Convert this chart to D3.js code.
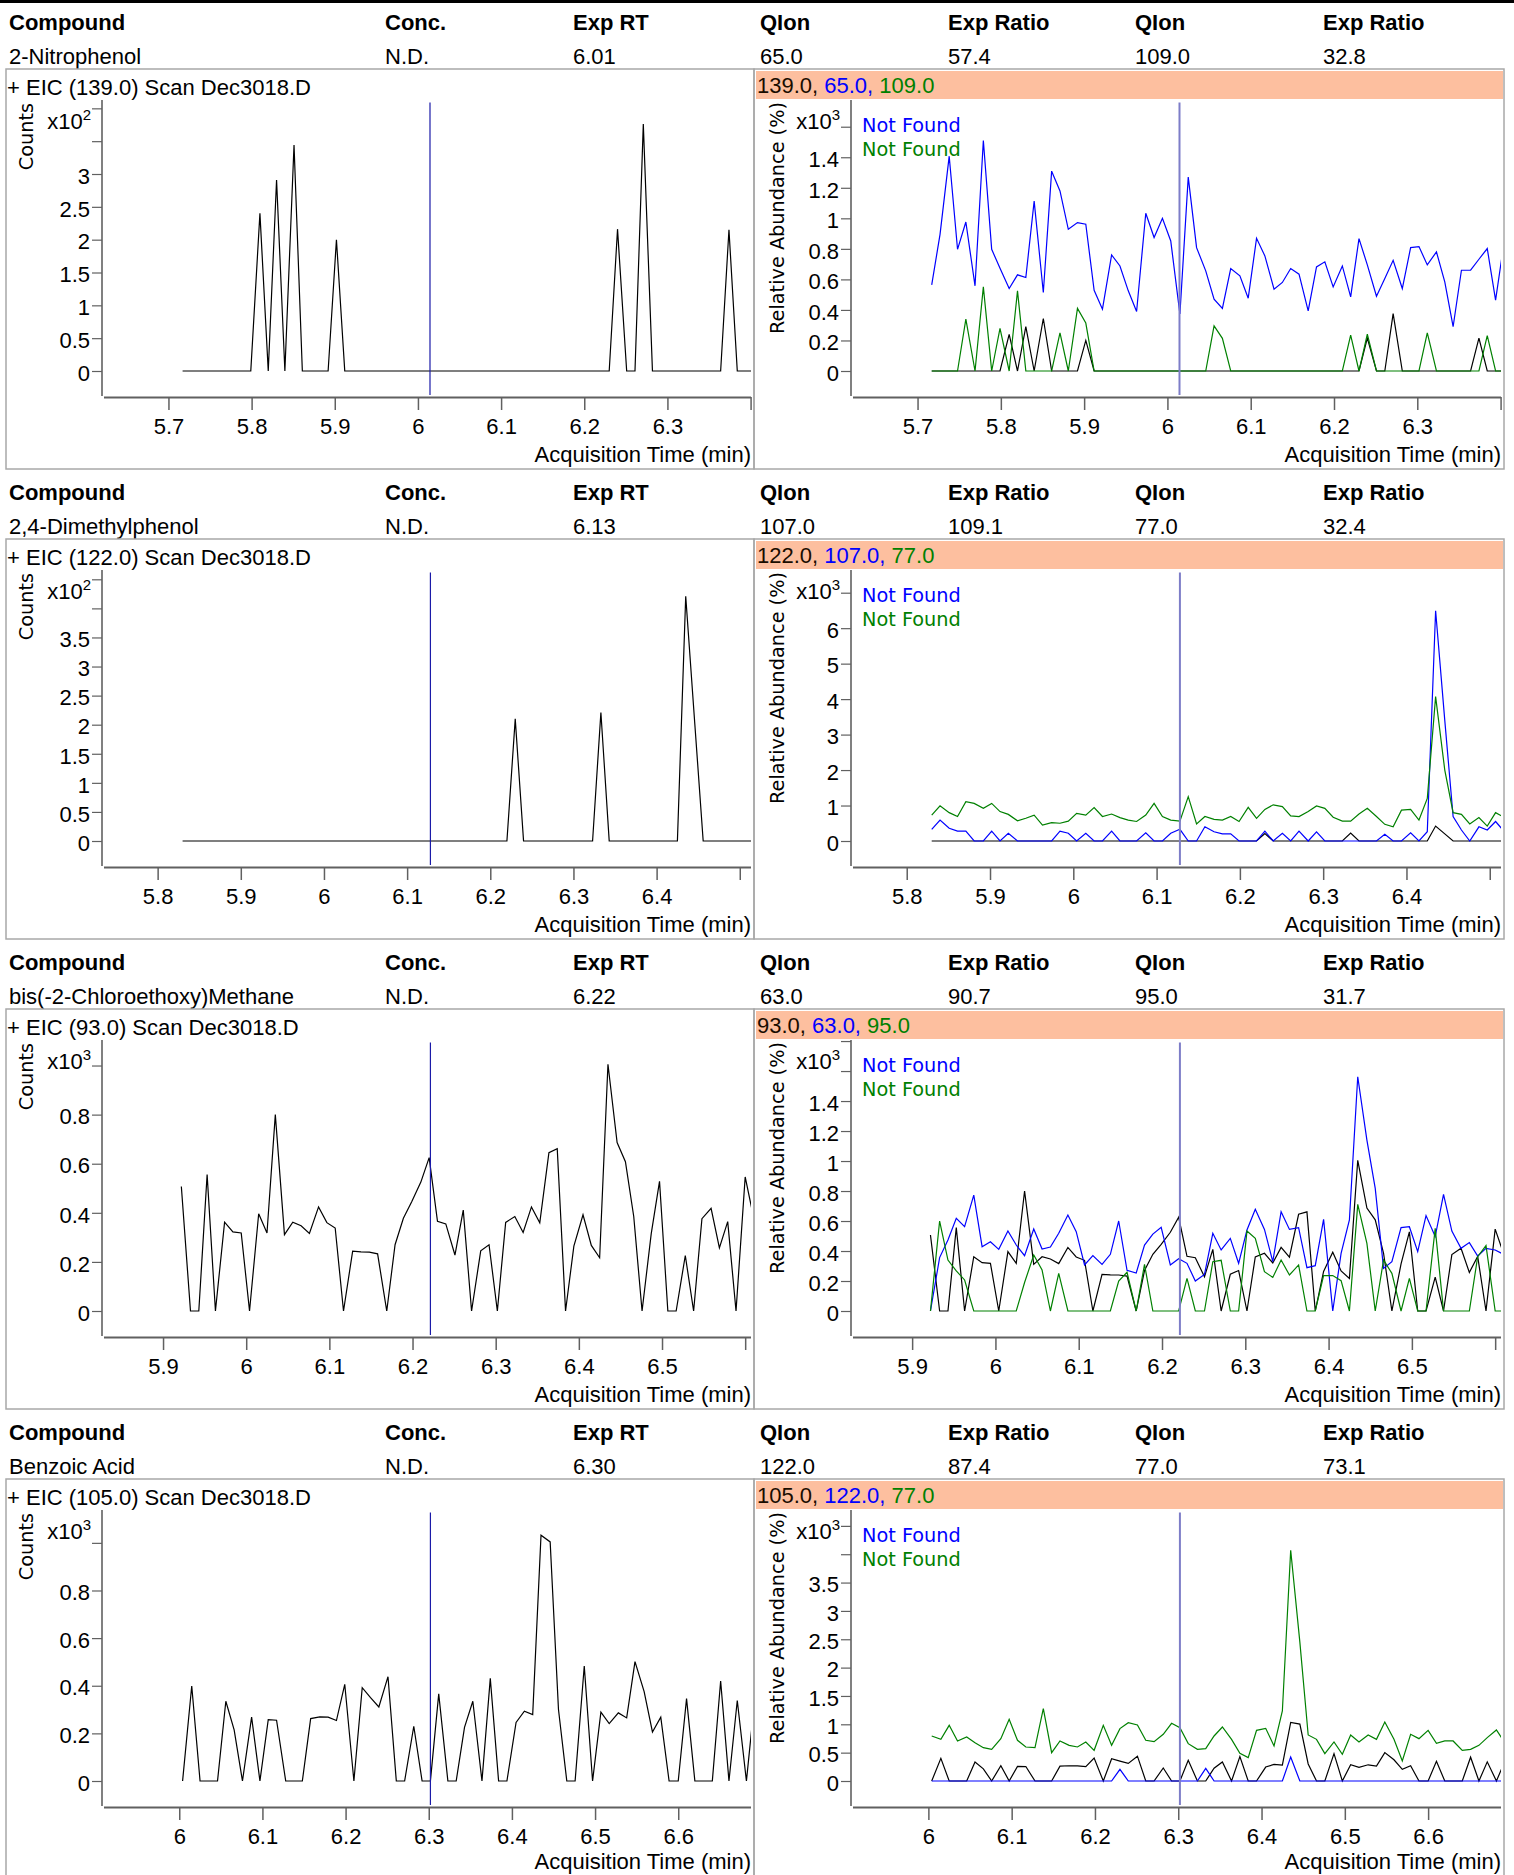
<!DOCTYPE html>
<html><head><meta charset="utf-8">
<script src="https://cdn.jsdelivr.net/npm/d3@7"></script>
<style>
body{margin:0;background:#fff}
</style>
</head><body>
<svg id="chart" width="1514" height="1875" font-family='"Liberation Sans", Arial, sans-serif'></svg>
<script>
// ---------- table data ----------
const headerLabels = ["Compound","Conc.","Exp RT","QIon","Exp Ratio","QIon","Exp Ratio"];
const compounds = ["2-Nitrophenol","2,4-Dimethylphenol","bis(-2-Chloroethoxy)Methane","Benzoic Acid"];
const concentrations = ["N.D.","N.D.","N.D.","N.D."];
const expRT = ["6.01","6.13","6.22","6.30"];
const qualIon1 = ["65.0","107.0","63.0","122.0"];
const qualRatio1 = ["57.4","109.1","90.7","87.4"];
const qualIon2 = ["109.0","77.0","95.0","77.0"];
const qualRatio2 = ["32.8","32.4","31.7","73.1"];
const targetIon = ["139.0","122.0","93.0","105.0"];
const qualStatus = ["Not Found","Not Found"];

// ---------- time windows ----------
const windowCenter = [6.013, 6.126, 6.2195, 6.300];
const windowHalf = [0.3905, 0.3875];
const rtMarker = [6.0145, 6.128, 6.2215, 6.302];
const scanTimes = [5.717,5.727,5.738,5.748,5.758,5.769,5.779,5.789,5.799,5.810,
 5.820,5.830,5.840,5.851,5.861,5.871,5.881,5.892,5.902,5.912,
 5.922,5.933,5.943,5.953,5.963,5.974,5.984,5.994,6.004,6.015,
 6.025,6.035,6.046,6.056,6.066,6.076,6.087,6.097,6.107,6.117,
 6.128,6.138,6.148,6.158,6.169,6.179,6.189,6.199,6.210,6.220,
 6.230,6.240,6.251,6.261,6.271,6.282,6.292,6.302,6.312,6.323,
 6.333,6.343,6.353,6.364,6.374,6.384,6.394,6.405,6.415,6.425,
 6.435,6.446,6.456,6.466,6.476,6.487,6.497,6.507,6.517,6.528,
 6.538,6.548,6.559,6.569,6.579,6.589,6.600,6.610,6.620,6.630,
 6.641,6.651,6.661,6.671,6.682,6.692];
const firstScan = [0, 11, 20, 28];

// ---------- axis settings (raw units) ----------
const countsTop = [412.7, 466, 1104, 1138];
const countsStep = [50, 50, 200, 200];
const countsExp = [2, 2, 3, 3];
const abundTop = [1775, 7640, 1807, 4780];
const abundStep = [200, 1000, 200, 500];
const abundExp = [3, 3, 3, 3];

// ---------- traces ----------
const nitroTarget = [0,0,0,0,0,0,0,0,0,240, 0,291,0,344,0,0,0,0,200,0, 0,0,0,0,0,0,0,0,0,0, 0,0,0,0,0,0,0,0,0,0, 0,0,0,0,0,0,0,0,0,0, 0,216,0,0,376,0,0,0,0,0, 0,0,0,0,215,0,0,0];
const nitroQual1 = [564,895,1407,797,976,558,1510,797,673,540, 630,612,1113,514,1309,1179,928,972,961,529, 405,760,688,525,390,1033,874,1000,852,373, 1270,808,656,471,410,671,623,477,869,754, 536,580,671,634,394,682,715,551,688,486, 867,695,490,606,725,540,808,815,695,780, 584,290,660,660,732,802,464,874];
const nitroQual2 = [0,0,0,0,340,0,551,0,279,0, 525,0,0,0,0,250,0,410,314,0, 0,0,0,0,0,0,0,0,0,0, 0,0,0,296,214,0,0,0,0,0, 0,0,0,0,0,0,0,0,0,235, 0,242,0,0,0,0,0,0,250,0, 0,0,0,0,0,231,0,0];

const dmpTarget = [0,0,0,0,0,0,0,0,0,0, 0,0,0,0,0,0,0,0,0,0, 0,0,0,0,0,0,0,0,0,0, 0,0,0,0,0,0,0,0,0,210, 0,0,0,0,0,0,0,0,0,221, 0,0,0,0,0,0,0,0,0,421, 200,0,0,0,0,0,0,0];
const dmpQual1 = [330,590,360,280,280,0,0,280,0,220, 0,0,0,0,0,280,220,0,220,0, 0,280,0,0,0,230,0,0,220,330, 0,0,400,260,200,200,0,0,0,280, 0,220,0,280,0,260,0,0,0,0, 0,0,0,190,0,0,230,0,260,6490, 3400,690,310,0,400,310,550,280];
const dmpQual2 = [730,990,800,690,1110,1060,920,1060,830,750, 570,640,730,450,520,500,560,780,730,940, 690,760,660,590,550,730,1060,690,590,560, 1250,480,690,610,590,690,550,950,640,890, 1020,970,710,690,830,990,920,670,560,560, 760,920,690,470,400,870,890,590,1200,4070, 2000,800,750,480,660,420,800,670];

const bisTarget = [507,0,0,556,0,362,322,318,0,396, 318,800,311,362,347,316,424,360,338,0, 244,241,240,233,0,270,378,445,525,625, 365,355,228,411,0,245,270,0,361,385, 320,424,359,645,661,0,264,392,267,217, 1005,686,608,385,0,314,528,0,0,226, 0,376,418,257,364,0,546,383];
const bisQual1 = [0,356,473,618,562,773,429,462,411,533, 440,369,547,413,427,518,640,529,307,369, 311,378,600,271,253,440,513,558,307,349, 318,200,244,518,407,484,318,540,678,544, 329,662,544,556,289,302,611,0,384,607, 1562,1140,818,284,329,556,562,396,636,496, 778,533,418,456,367,418,407,378];
const bisQual2 = [0,600,340,267,207,0,0,0,0,0, 0,190,373,273,0,251,0,0,0,0, 0,0,200,258,0,311,0,0,0,0, 218,0,0,329,338,0,0,533,484,262, 224,340,240,307,0,0,236,236,202,0, 711,451,0,340,251,0,218,0,0,551, 0,0,0,0,362,436,0,0];

const benzTarget = [0,399,0,0,0,335,215,0,268,0, 258,255,0,0,0,262,269,268,254,406, 0,392,350,311,438,0,0,230,0,0, 366,0,0,225,335,0,431,0,0,246, 293,279,1032,1004,300,0,0,483,0,289, 241,286,265,501,375,206,268,0,0,346, 0,0,0,420,0,338,0,346];
const benzQual1 = [0,0,0,0,0,0,0,0,0,0, 0,0,0,0,0,0,0,0,0,0, 0,0,206,0,0,0,0,0,0,0, 0,0,224,0,0,0,0,0,0,0, 0,0,424,0,0,0,0,0,0,0, 0,0,0,0,0,0,0,0,0,0, 0,0,0,0,0,0,0,0];
const benzQual2 = [794,735,982,706,776,676,588,559,747,1088, 718,600,588,1276,500,706,629,600,688,541, 982,629,924,1029,988,718,694,824,1018,941, 659,559,571,794,953,735,488,412,894,929, 618,1235,4070,2450,812,735,482,688,471,812, 688,812,735,1041,735,353,824,747,894,665, 706,706,541,559,629,765,900,676];

const targetTraces = [nitroTarget, dmpTarget, bisTarget, benzTarget];
const qual1Traces = [nitroQual1, dmpQual1, bisQual1, benzQual1];
const qual2Traces = [nitroQual2, dmpQual2, bisQual2, benzQual2];

// ---------- drawing ----------
const PANEL_H = 470;
const HEAD_X = [9, 385, 573, 760, 948, 1135, 1323];
const COL_TARGET = "#000000", COL_Q1 = "#0000ff", COL_Q2 = "#008000";
const TFONT = '"Liberation Sans", Arial, sans-serif';
const VFONT = '"DejaVu Sans", Verdana, sans-serif';
const svg = d3.select("#chart");
const defs = svg.append("defs");
const PAGE_H = 1875;

svg.append("rect").attr("x",0).attr("y",0).attr("width",1514).attr("height",3).attr("fill","#000");

function drawPlot(g, id, opt) {
  const x = d3.scaleLinear().domain(opt.domain).range([opt.x0, opt.x1]);
  const yTop = 100, yBot = 396;
  const y = d3.scaleLinear().domain([-opt.top*25/271, opt.top]).range([yBot, yTop]);

  defs.append("clipPath").attr("id", id).append("rect")
    .attr("x", opt.x0).attr("y", opt.py + yTop).attr("width", opt.x1 - opt.x0).attr("height", yBot - yTop + 1);

  // axis lines
  g.append("line").attr("x1", opt.ax).attr("x2", opt.ax).attr("y1", yTop).attr("y2", yBot)
    .attr("stroke", "#808080").attr("stroke-width", 2);
  g.append("line").attr("x1", opt.x0).attr("x2", opt.x1).attr("y1", 397.5).attr("y2", 397.5)
    .attr("stroke", "#606060").attr("stroke-width", 2);

  // x axis ticks
  const xt = d3.range(Math.ceil(opt.domain[0]*10 - 1e-6), Math.floor(opt.domain[1]*10 + 1e-6) + 1).map(v => v/10);
  const xAxis = d3.axisBottom(x).tickValues(xt).tickSize(13).tickPadding(8)
    .tickFormat(v => x(v) > opt.x1 - 20 ? "" : d3.format("~g")(v));
  const xg = g.append("g").attr("transform", "translate(0,397)").call(xAxis);
  xg.select(".domain").remove();
  xg.selectAll(".tick line").attr("stroke", "#606060").attr("stroke-width", 1.5);
  xg.selectAll(".tick text").attr("font-size", 22).attr("fill", "#000").style("font-family", TFONT);

  // y axis ticks
  const yt = d3.range(0, opt.top + 1e-6, opt.step);
  const p = Math.pow(10, opt.exp);
  const yAxis = d3.axisLeft(y).tickValues(yt).tickSize(10).tickPadding(2)
    .tickFormat(v => y(v) < 150 ? "" : String(+(v/p).toFixed(3)));
  const yg = g.append("g").attr("transform", `translate(${opt.ax},0)`).call(yAxis);
  yg.select(".domain").remove();
  yg.selectAll(".tick line").attr("stroke", "#606060").attr("stroke-width", 1.2);
  yg.selectAll(".tick text").attr("font-size", 22).attr("fill", "#000").attr("dy", "0.42em")
    .style("font-family", TFONT);

  // exponent label
  const ex = g.append("text").attr("x", opt.ax - 11).attr("y", 129).attr("text-anchor", "end").attr("font-size", 22);
  ex.append("tspan").text("x10");
  ex.append("tspan").attr("dy", -9).attr("font-size", 15).text(opt.exp);

  // y label
  g.append("text").attr("transform", `translate(${opt.labelX},${opt.labelTop}) rotate(-90)`)
    .attr("text-anchor", "end").style("font-family", VFONT).attr("font-size", 19.3).text(opt.ylabel);

  // x label (kept inside the page at the bottom edge)
  const xlY = Math.min(462, PAGE_H - opt.py - 6);
  g.append("text").attr("x", opt.x1).attr("y", xlY).attr("text-anchor", "end").attr("font-size", 22)
    .text("Acquisition Time (min)");

  // traces
  const lg = g.append("g").attr("clip-path", `url(#${id})`).attr("transform", `translate(0,${-opt.py})`);
  const inner = lg.append("g").attr("transform", `translate(0,${opt.py})`);
  opt.series.forEach(s => {
    const line = d3.line().x((d, k) => x(opt.times[k])).y(d => y(d));
    inner.append("path").attr("d", line(s.values)).attr("fill", "none")
      .attr("stroke", s.color).attr("stroke-width", 1.2).attr("stroke-linejoin", "miter");
  });

  // expected RT marker
  g.append("line").attr("x1", x(opt.rt)).attr("x2", x(opt.rt)).attr("y1", 102.5).attr("y2", 395)
    .attr("stroke", opt.rtColor).attr("stroke-width", opt.rtWidth);
}

compounds.forEach((name, i) => {
  const py = i * PANEL_H;
  const g = svg.append("g").attr("transform", `translate(0,${py})`);

  headerLabels.forEach((h, j) => g.append("text").attr("x", HEAD_X[j]).attr("y", 30)
    .attr("font-weight", "bold").attr("font-size", 22).text(h));
  const row = [name, concentrations[i], expRT[i], qualIon1[i], qualRatio1[i], qualIon2[i], qualRatio2[i]];
  row.forEach((v, j) => g.append("text").attr("x", HEAD_X[j]).attr("y", 64).attr("font-size", 22).text(v));

  // boxes
  g.append("rect").attr("x", 6).attr("y", 69).attr("width", 748).attr("height", 400)
    .attr("fill", "none").attr("stroke", "#a8a8a8").attr("stroke-width", 1.5);
  g.append("rect").attr("x", 754).attr("y", 69).attr("width", 750).attr("height", 400)
    .attr("fill", "none").attr("stroke", "#a8a8a8").attr("stroke-width", 1.5);
  g.append("rect").attr("x", 756).attr("y", 71).attr("width", 747).attr("height", 28).attr("fill", "#fdbf9f");

  g.append("text").attr("x", 7).attr("y", 95).attr("font-size", 22)
    .text(`+ EIC (${targetIon[i]}) Scan Dec3018.D`);
  const ot = g.append("text").attr("x", 757).attr("y", 93).attr("font-size", 22);
  ot.append("tspan").attr("fill", "#1a0d00").text(targetIon[i] + ", ");
  ot.append("tspan").attr("fill", COL_Q1).text(qualIon1[i] + ", ");
  ot.append("tspan").attr("fill", COL_Q2).text(qualIon2[i]);

  const times = scanTimes.slice(firstScan[i], firstScan[i] + targetTraces[i].length);
  const domain = [windowCenter[i] - windowHalf[0], windowCenter[i] + windowHalf[1]];

  drawPlot(g, "clipL" + i, {
    py, domain, times, x0: 104, x1: 751, ax: 102,
    top: countsTop[i], step: countsStep[i], exp: countsExp[i],
    ylabel: "Counts", labelX: 33, labelTop: 103,
    series: [{values: targetTraces[i], color: COL_TARGET}],
    rt: rtMarker[i], rtColor: "#1a1aa8", rtWidth: 1.2
  });
  drawPlot(g, "clipR" + i, {
    py, domain, times, x0: 853, x1: 1501, ax: 851,
    top: abundTop[i], step: abundStep[i], exp: abundExp[i],
    ylabel: "Relative Abundance (%)", labelX: 784, labelTop: 102,
    series: [{values: targetTraces[i], color: COL_TARGET},
             {values: qual1Traces[i], color: COL_Q1},
             {values: qual2Traces[i], color: COL_Q2}],
    rt: rtMarker[i], rtColor: "#7d7dc8", rtWidth: 2
  });
  g.append("text").attr("x", 862).attr("y", 131.5).style("font-family", VFONT).attr("font-size", 19.3)
    .attr("fill", COL_Q1).text(qualStatus[0]);
  g.append("text").attr("x", 862).attr("y", 155.5).style("font-family", VFONT).attr("font-size", 19.3)
    .attr("fill", COL_Q2).text(qualStatus[1]);
});
</script>
</body></html>
